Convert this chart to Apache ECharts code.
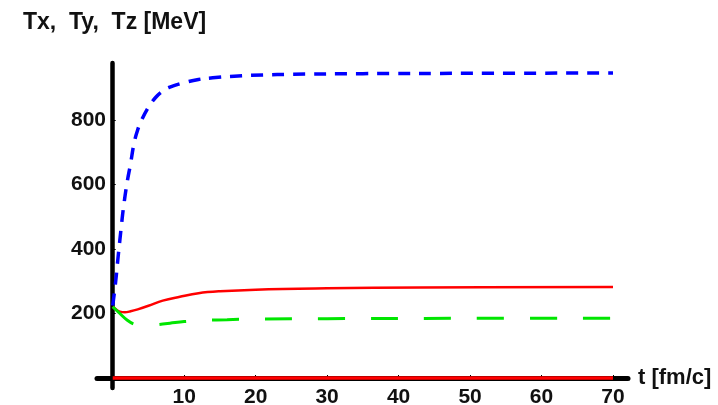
<!DOCTYPE html>
<html>
<head>
<meta charset="utf-8">
<script src="https://cdn.jsdelivr.net/npm/echarts@6/dist/echarts.min.js"></script>
<style>html,body{margin:0;padding:0;background:#fff;}#c{width:718px;height:405px;}</style>
</head>
<body>
<div id="c"></div>
<script>
var xTicks = [10, 20, 30, 40, 50, 60, 70];
var yTicks = [200, 400, 600, 800];
var tx = [[0,225],[0.25,268],[0.5,318],[0.75,375],[1.0,428],[1.25,480],[1.5,528],[2.0,605],[2.5,665],[3.0,730],[3.5,770],[4.0,798],[5.0,840],[6.0,870],[7.0,890],[8.0,902],[10,916],[12,926],[14,931],[17,936],[21,940],[25,942],[35,944],[50,945],[70,946]];
var ty = [[0,221],[0.5,212],[1,206],[1.7,204],[2.5,207],[3.5,213],[5,224],[7,240],[9.4,252],[12,263],[15,269],[20,274],[30,278],[43,281],[70,282]];
var tzz = [[0,221],[1,200],[2,180],[3,167],[4,163],[5,163],[6,165],[8,170],[10,175],[13,179],[16,181],[20,183],[30,184],[50,185],[70,185]];
var baseLine = [[0,0],[70,0]];

var chart = echarts.init(document.getElementById('c'), null, {renderer: 'canvas'});
var font = 'Liberation Sans, Arial, Helvetica, sans-serif';
chart.setOption({
  animation: false,
  backgroundColor: '#fff',
  title: {
    text: 'Tx,  Ty,  Tz [MeV]',
    left: 18, top: 6,
    textStyle: {fontFamily: font, fontSize: 23, fontWeight: 'bold', color: '#111'}
  },
  grid: {left: 97, right: 90, top: 63, bottom: 17, containLabel: false, outerBoundsMode: 'none'},
  xAxis: {
    type: 'value', min: -2.2, max: 72.1,
    name: 't [fm/c]', nameLocation: 'end', nameGap: 10,
    nameTextStyle: {fontFamily: font, fontSize: 22, fontWeight: 'bold', color: '#111', verticalAlign: 'middle'},
    axisLine: {onZero: true, lineStyle: {color: '#000', width: 5}},
    axisTick: {show: true, inside: true, length: 3, customValues: xTicks, lineStyle: {color: '#000', width: 1}},
    axisLabel: {customValues: xTicks, margin: -1, fontFamily: font, fontSize: 21, fontWeight: 'bold', color: '#111'},
    splitLine: {show: false}
  },
  yAxis: {
    type: 'value', min: -31, max: 977,
    axisLine: {onZero: true, lineStyle: {color: '#000', width: 4.5}},
    axisTick: {show: true, inside: true, length: 3, customValues: yTicks, lineStyle: {color: '#000', width: 1}},
    axisLabel: {customValues: yTicks, margin: -9, fontFamily: font, fontSize: 21, fontWeight: 'bold', color: '#111'},
    splitLine: {show: false}
  },
  series: [
    {type: 'line', data: baseLine, symbol: 'none', lineStyle: {color: '#ff0000', width: 3.5}, z: 3},
    {type: 'line', data: ty, symbol: 'none', smooth: 0.4, lineStyle: {color: '#ff0000', width: 2.5}},
    {type: 'line', data: tzz, symbol: 'none', smooth: 0.4, lineStyle: {color: '#00e600', width: 3, type: [27, 26]}},
    {type: 'line', data: tx, symbol: 'none', smooth: 0.4, lineStyle: {color: '#0000ff', width: 3.5, type: [12, 9]}}
  ]
});
</script>
</body>
</html>
